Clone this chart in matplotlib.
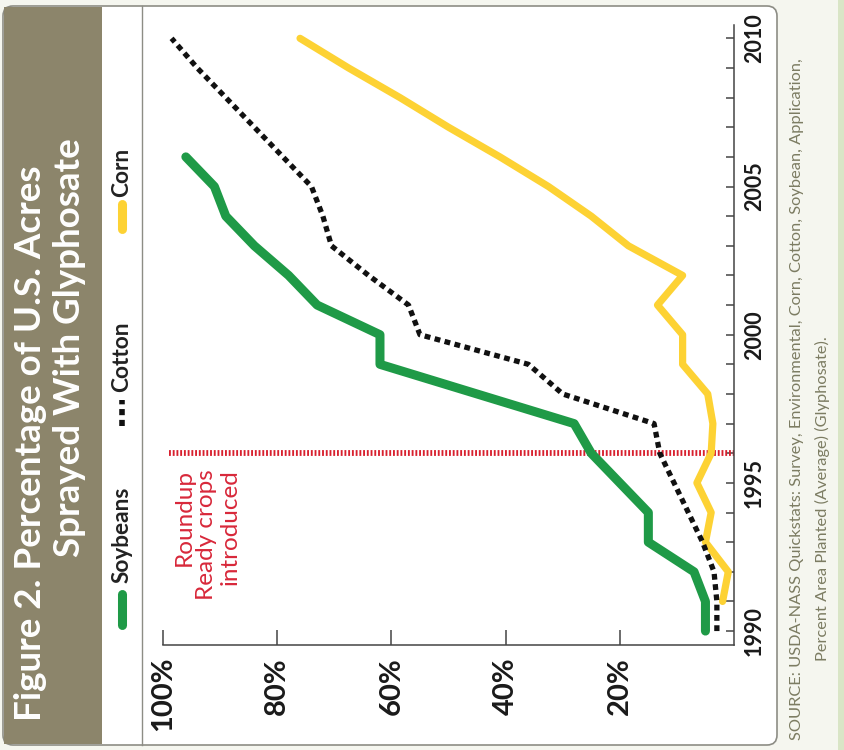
import matplotlib
matplotlib.use("Agg")
import matplotlib.pyplot as plt
from matplotlib.patches import FancyBboxPatch, Rectangle

# Data (percent of acres sprayed with glyphosate)
years = list(range(1990, 2011))
soy_years = list(range(1990, 2007))
soybeans = [5, 5, 7, 15, 15, 20, 25, 28, 45, 62, 62, 73, 78, 84, 89, 91, 96]
cotton = [3, 3, 3.5, 5.5, 8, 10.5, 13, 14, 30, 36, 55, 57, 64, 70.5, 72, 74,
          79, 84, 89, 94, 98.5]
corn_years = list(range(1991, 2011))
corn = [2, 1, 5, 4, 6.5, 4, 3.7, 4.6, 9, 9, 13.4, 9, 18.5, 25, 32.5, 41, 50,
        58.5, 67.5, 76]
pct_ticks = [100, 80, 60, 40, 20]
year_ticks = [1990, 1995, 2000, 2005, 2010]
roundup_year = 1996

GREEN = "#1f9a47"
YELLOW = "#fdd234"
BLACK = "#111111"
RED = "#d8202e"
BAND = "#8c856b"
BORDER = "#8d8d85"
SRC = "#7c7c62"

plt.rcParams["font.family"] = ["Lato", "DejaVu Sans"]

W, H = 844, 750
fig = plt.figure(figsize=(W / 100, H / 100), dpi=100)
fig.patch.set_facecolor("#f5f6ef")

# background layer in pixel coords (y down)
bg = fig.add_axes([0, 0, 1, 1], zorder=0)
bg.set_xlim(0, W)
bg.set_ylim(H, 0)
bg.axis("off")

bg.add_patch(Rectangle((838, 0), 6, H, color="#d9e5c6", lw=0))
bg.add_patch(FancyBboxPatch((3, 6), 774, 739,
                            boxstyle="round,pad=0,rounding_size=10",
                            fc="white", ec=BORDER, lw=1.2))
bg.add_patch(Rectangle((3.5, 6.6), 98.5, 737.8, color=BAND, lw=0))
bg.plot([142, 142], [6, 745], color=BORDER, lw=1.0)

# title (rotated, hanging indent)
bg.text(31, 721, "Figure 2. Percentage of U.S. Acres", rotation=90,
        ha="center", va="bottom", color="white", fontsize=26.5, fontweight="bold")
bg.text(70, 557, "Sprayed With Glyphosate", rotation=90,
        ha="center", va="bottom", color="white", fontsize=26.5, fontweight="bold")

# legend
bg.plot([122, 122], [625, 594], color=GREEN, lw=6.5, solid_capstyle="round")
bg.plot([122, 122], [426, 400], color=BLACK, lw=4.0, ls=(0, (1.1, 0.85)))
bg.plot([122, 122], [229, 204], color=YELLOW, lw=6.5, solid_capstyle="round")
for y0, name in [(583, "Soybeans"), (392, "Cotton"), (197, "Corn")]:
    bg.text(122, y0, name, rotation=90, ha="center", va="bottom",
            fontsize=16.3, fontweight="bold", color="#222222")

# source note
bg.text(797, 740, "SOURCE: USDA-NASS Quickstats: Survey, Environmental, Corn, "
        "Cotton, Soybean, Application,", rotation=90, ha="center", va="bottom",
        fontsize=11.8, color=SRC)
bg.text(822, 661, "Percent Area Planted (Average) (Glyphosate).", rotation=90,
        ha="center", va="bottom", fontsize=11.8, color=SRC)

# chart: value axis runs right-to-left, years bottom-to-top
ax = fig.add_axes([163 / W, 1 - 645 / H, (734 - 163) / W, (645 - 25) / H], zorder=1)
ax.patch.set_alpha(0)
ax.set_xlim(100, 0)
ax.set_ylim(1989.53, 2010.45)
for s in ["left", "top"]:
    ax.spines[s].set_visible(False)
for s in ["bottom", "right"]:
    ax.spines[s].set_color("#444444")
    ax.spines[s].set_linewidth(1.1)

ax.set_xticks(pct_ticks)
ax.set_xticklabels([f"{p}%" for p in pct_ticks], rotation=90, ha="center",
                   va="top", fontsize=21, fontweight="bold", color="#1a1a1a")
ax.tick_params(axis="x", direction="in", length=10.8, width=1.1,
               color="#444444", pad=8.6)

ax.yaxis.tick_right()
ax.set_yticks(year_ticks)
ax.set_yticks(years, minor=True)
ax.set_yticklabels([str(y) for y in year_ticks], rotation=90, ha="left",
                   va="center", fontsize=15.5, fontweight="bold", color="#1a1a1a")
ax.tick_params(axis="y", which="both", direction="in", length=5.8, width=1.1,
               color="#444444", pad=7, left=False, right=True)

ax.axhline(roundup_year, xmin=0.01, xmax=1, color=RED, lw=4.2,
           ls=(0, (0.32, 0.32)), zorder=2)
ax.text(92.3, roundup_year - 0.54, "Roundup\nReady crops\nintroduced",
        rotation=90, ha="center", va="top", multialignment="right",
        color="#d8283a", fontsize=17.5, linespacing=1.12)

ax.plot(corn, corn_years, color=YELLOW, lw=5.2, solid_capstyle="round",
        zorder=3, clip_on=False)
ax.plot(soybeans, soy_years, color=GREEN, lw=6.5, solid_capstyle="round",
        zorder=4, clip_on=False)
ax.plot(cotton, years, color=BLACK, lw=3.8, ls=(0, (1.1, 0.85)),
        dash_capstyle="butt", zorder=5, clip_on=False)

fig.savefig("out.png", dpi=100, facecolor=fig.get_facecolor())
